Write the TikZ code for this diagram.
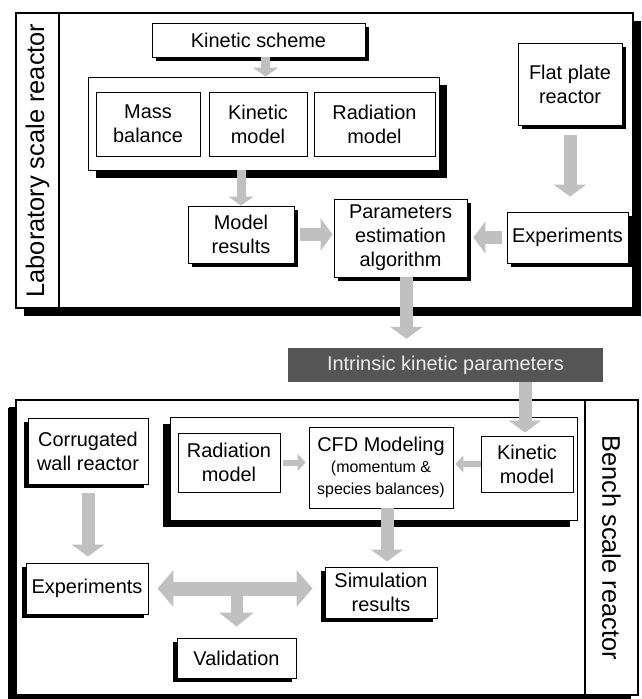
\documentclass[tikz,border=0pt]{standalone}
\usepackage{fontspec}
\setmainfont{Liberation Sans}
\usetikzlibrary{arrows.meta,shadows,calc}
\definecolor{arrowgray}{RGB}{192,192,192}
\definecolor{darkbox}{RGB}{85,85,85}
\definecolor{lighttext}{RGB}{236,236,236}
\begin{document}
\begin{tikzpicture}[x=1bp,y=-1bp,
  txt/.style={font=\fontsize{20}{24}\selectfont},
  box/.style={draw, fill=white, line width=0.9bp, align=center, inner sep=0pt, txt},
  shrb/.style={general shadow={fill=black, shadow xshift=4bp, shadow yshift=-4bp}},
  shlb/.style={general shadow={fill=black, shadow xshift=-4bp, shadow yshift=-4bp}},
  bigshrb/.style={general shadow={fill=black, shadow xshift=8bp, shadow yshift=-8bp}},
  bigshlb/.style={general shadow={fill=black, shadow xshift=-7bp, shadow yshift=-7bp}},
  framebox/.style={draw, fill=white, line width=1.1bp, inner sep=0pt},
  sidelabel/.style={font=\fontsize{25.5}{30}\selectfont},
  arrS/.style={color=arrowgray, line width=9bp, -{Triangle[width=25bp,length=9bp]}},
  arrT/.style={color=arrowgray, line width=6bp, -{Triangle[width=17bp,length=8bp]}},
  arrM/.style={color=arrowgray, line width=13bp, -{Triangle[width=32bp,length=12bp]}},
  arrD/.style={color=arrowgray, line width=14bp, {Triangle[width=36bp,length=16bp]}-{Triangle[width=36bp,length=16bp]}},
  arrB/.style={color=arrowgray, line width=12bp, -{Triangle[width=34bp,length=14bp]}}
]
\useasboundingbox (0,0) rectangle (642,699);

% ---------- top frame ----------
\node[framebox, bigshrb, minimum width=617bp, minimum height=295bp] (frame1) at (324.5,160.5) {};
\draw[line width=1.1bp] (59,13) -- (59,308);
\node[sidelabel, rotate=90] (lablab) at (37.5,160.5) {Laboratory scale reactor};

\node[box, shrb, minimum width=213bp, minimum height=34bp] (ks) at (258.5,40) {Kinetic scheme};
\node[framebox, line width=0.9bp, bigshrb, minimum width=351bp, minimum height=93bp] (grp1) at (263.5,123.5) {};
\node[box, minimum width=104bp, minimum height=64bp] (mb) at (148,124) {Mass\\balance};
\node[box, minimum width=98bp, minimum height=64bp] (km) at (258,124) {Kinetic\\model};
\node[box, minimum width=121bp, minimum height=64bp] (rm) at (374.5,124) {Radiation\\model};
\node[box, shrb, minimum width=104bp, minimum height=82bp] (fpr) at (570,84) {Flat plate\\reactor};
\node[box, shrb, minimum width=106bp, minimum height=57bp] (mr) at (241,234.5) {Model\\results};
\node[box, shrb, minimum width=133bp, minimum height=78bp] (pea) at (400.5,238) {Parameters\\estimation\\algorithm};
\node[box, shrb, minimum width=121bp, minimum height=51bp] (exp1) at (567.5,237.5) {Experiments};

% ---------- intrinsic ----------
\node[fill=darkbox, text=lighttext, txt, inner sep=0pt, minimum width=315bp, minimum height=34bp] (ikp) at (445.5,365) {Intrinsic kinetic parameters};

% ---------- bottom frame ----------
\node[framebox, bigshlb, general shadow={fill=black, shadow xshift=-8bp, shadow yshift=-8bp}, minimum width=622bp, minimum height=295bp] (frame2) at (327,547.5) {};
\draw[line width=1.1bp] (585,400) -- (585,695);
\node[sidelabel, rotate=-90] (benchlab) at (611.5,547.5) {Bench scale reactor};

\node[framebox, line width=0.9bp, bigshlb, minimum width=407bp, minimum height=103bp] (grp2) at (373.5,468.5) {};
\node[box, minimum width=102bp, minimum height=59bp] (rm2) at (229,462.5) {Radiation\\model};
\node[box, minimum width=144bp, minimum height=81bp] (cfd) at (381,467.5) {CFD Modeling\\[-3bp]{\fontsize{16}{22}\selectfont (momentum \&}\\[-1bp]{\fontsize{16}{22}\selectfont species balances)}};
\node[box, minimum width=92bp, minimum height=56bp] (km2) at (527,464) {Kinetic\\model};
\node[box, shlb, minimum width=112bp, minimum height=51bp] (sim) at (381,592.5) {Simulation\\results};
\node[box, shlb, minimum width=120bp, minimum height=66bp] (cwr) at (88,451) {Corrugated\\wall reactor};
\node[box, shlb, minimum width=122bp, minimum height=51bp] (exp2) at (87,588.5) {Experiments};
\node[box, shlb, minimum width=119bp, minimum height=40bp] (val) at (236.5,658) {Validation};

% ---------- arrows ----------
\draw[arrS] ([xshift=7bp]ks.south) -- ([xshift=7bp]ks.south |- grp1.north);
\draw[arrS] (mr.north |- grp1.south) -- (mr.north);
\draw[arrM, shorten <=6bp, shorten >=1bp] (mr.east) -- (mr.east -| pea.west);
\draw[arrM, shorten <=5bp, shorten >=6bp] (exp1.west) -- (exp1.west -| pea.east);
\draw[arrM, shorten <=10bp, shorten >=15bp] (fpr.south) -- (fpr.south |- exp1.north);
\draw[arrM, shorten >=9bp] ([xshift=6bp]pea.south) -- ([xshift=6bp]pea.south |- ikp.north);
\draw[arrM, shorten >=3bp] ([xshift=-2bp]km2.north |- ikp.south) -- ([xshift=-2bp]km2.north);
\draw[arrT, shorten <=3bp, shorten >=3bp] (rm2.east) -- (rm2.east -| cfd.west);
\draw[arrT, shorten >=2bp] (km2.west) -- (km2.west -| cfd.east);
\draw[arrM, shorten >=5bp] ([xshift=6bp]cfd.south) -- ([xshift=6bp]cfd.south |- sim.north);
\draw[arrM, shorten <=9bp, shorten >=6bp] (cwr.south) -- (cwr.south |- exp2.north);
\draw[arrD, shorten <=9bp, shorten >=12bp] (exp2.east) -- (exp2.east -| sim.west);
\coordinate (br) at ($(exp2.east)!0.5!(exp2.east -| sim.west)$);
\draw[arrB, shorten >=11bp] (br) -- (br |- val.north);
\end{tikzpicture}
\end{document}
